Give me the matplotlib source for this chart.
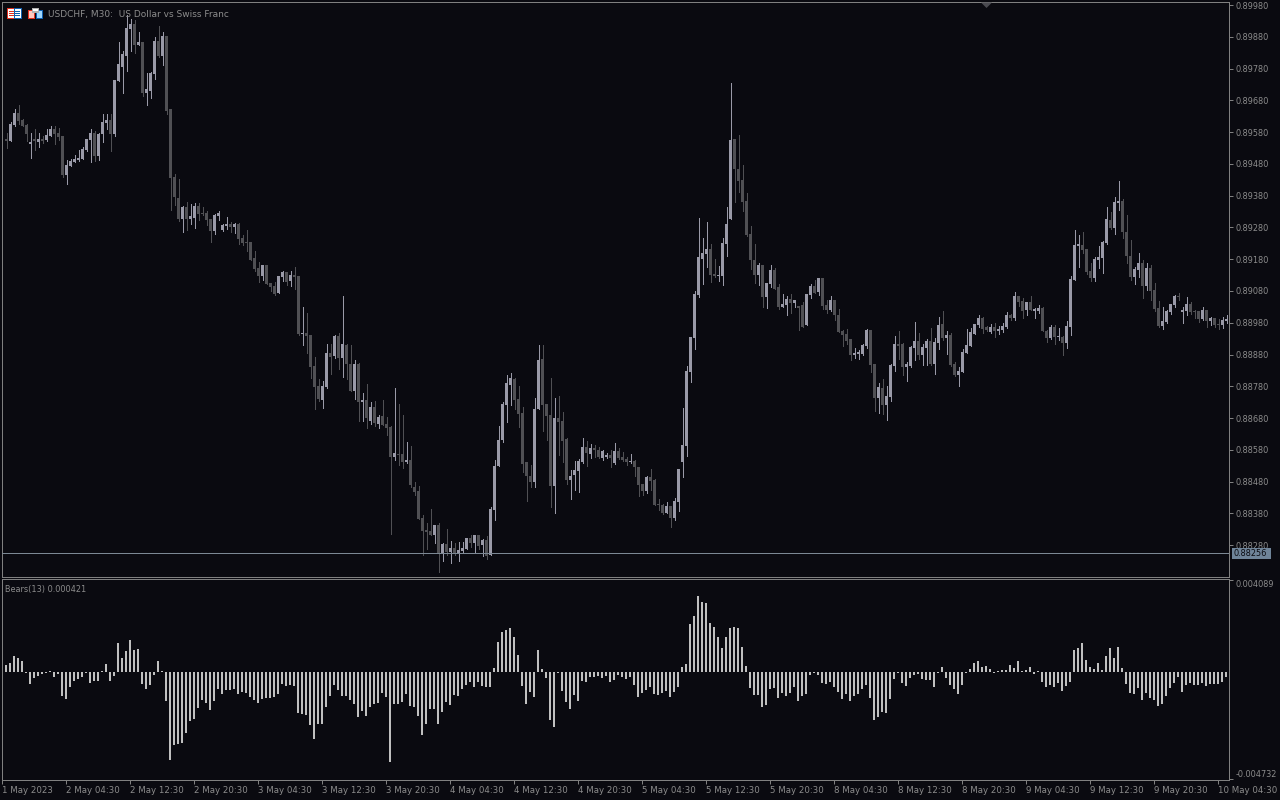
import matplotlib
matplotlib.use('Agg')
import matplotlib.pyplot as plt
import numpy as np
from matplotlib.patches import Rectangle, Polygon
from matplotlib.transforms import ScaledTranslation

# prices in points (0.00001), one candle every 30 minutes
opens = [
    89557,89552,89602,89640,89618,89602,89542,89558,89549,89558,
    89555,89568,89590,89577,89568,89445,89473,89487,89492,89495,
    89523,89555,89577,89505,89574,89609,89618,89574,89741,89785,
    89820,89905,89920,89854,89864,89703,89709,89763,89867,89820,
    89883,89653,89438,89372,89306,89344,89306,89309,89347,89324,
    89325,89306,89268,89316,89272,89284,89290,89281,89290,89246,
    89234,89234,89183,89152,89127,89161,89105,89095,89073,89123,
    89139,89111,89130,89127,88944,88947,88941,88843,88780,88736,
    88777,88884,88875,88938,88868,88909,88849,88764,88849,88730,
    88736,88672,88715,88662,88687,88661,88652,88557,88567,88567,
    88542,88548,88463,88450,88365,88327,88324,88312,88343,88254,
    88283,88258,88271,88254,88261,88268,88302,88287,88312,88280,
    88296,88249,88390,88529,88611,88721,88784,88803,88740,88696,
    88542,88498,88479,88709,88866,88724,88690,88466,88680,88671,
    88614,88485,88501,88513,88542,88589,88567,88586,88580,88554,
    88557,88564,88539,88576,88557,88551,88542,88545,88526,88472,
    88450,88494,88485,88409,88406,88381,88403,88365,88416,88542,
    88592,88825,88932,89067,89181,89196,89212,89133,89127,89127,
    89228,89307,89559,89464,89430,89363,89259,89177,89130,89162,
    89061,89102,89146,89092,89029,89036,89055,89042,89033,89036,
    88973,89067,89096,89077,89121,89036,89020,89052,89004,88954,
    88944,88929,88878,88881,88881,88907,88957,88850,88743,88774,
    88721,88746,88844,88913,88913,88840,88844,88900,88922,88878,
    88900,88922,88850,88916,88976,88932,88941,88850,88815,88825,
    88885,88907,88944,88973,88995,88966,88951,88966,88954,88957,
    88966,89004,88995,89064,89048,89020,89045,89017,89017,89026,
    88954,88932,88966,88935,88935,88916,88966,89115,89222,89225,
    89212,89143,89121,89177,89184,89231,89304,89278,89357,89363,
    89266,89190,89124,89146,89168,89096,89152,89083,89026,88970,
    88982,89014,89036,89064,89014,89017,89039,89017,89017,88992,
    89020,88985,88995,88976,88973,88985,
]
highs = [
    89576,89612,89653,89665,89621,89605,89576,89590,89577,89568,
    89590,89599,89599,89593,89568,89492,89495,89508,89523,89533,
    89558,89590,89583,89577,89637,89637,89637,89744,89864,89835,
    89949,89936,89933,89895,89864,89766,89769,89879,89914,89895,
    89883,89653,89448,89432,89347,89360,89353,89357,89357,89344,
    89331,89306,89322,89331,89290,89312,89297,89294,89294,89256,
    89271,89234,89205,89171,89161,89161,89105,89108,89127,89142,
    89139,89142,89155,89127,89029,89010,88941,88871,88802,88796,
    88912,88912,88941,88947,89064,88912,88909,88862,88853,88758,
    88786,88730,88733,88690,88737,88683,88655,88775,88724,88690,
    88605,88592,88479,88466,88375,88350,88394,88343,88350,88286,
    88331,88293,88287,88290,88290,88302,88312,88312,88312,88299,
    88309,88400,88548,88655,88731,88816,88822,88806,88781,88715,
    88542,88532,88743,88910,88910,88724,88806,88743,88750,88699,
    88617,88516,88545,88551,88617,88608,88598,88595,88589,88580,
    88570,88580,88602,88586,88573,88557,88567,88548,88526,88472,
    88498,88520,88488,88425,88409,88416,88403,88428,88520,88712,
    88844,88935,89080,89310,89247,89297,89228,89181,89159,89247,
    89344,89735,89559,89571,89477,89389,89285,89228,89168,89162,
    89105,89162,89152,89102,89070,89064,89070,89051,89033,89045,
    89070,89102,89115,89121,89121,89052,89064,89052,89023,88957,
    88960,88929,88900,88894,88913,88960,88957,88850,88790,88803,
    88781,88850,88938,88954,88916,88856,88907,88982,88948,88913,
    88929,88963,88932,88998,89017,88954,88948,88856,88840,88897,
    88960,88963,88976,89004,88998,88970,88976,88979,88970,88979,
    89014,89007,89077,89064,89058,89045,89064,89026,89036,89029,
    88957,88973,88973,88963,88938,88985,89127,89272,89256,89266,
    89212,89168,89187,89222,89237,89344,89329,89376,89426,89370,
    89319,89240,89155,89200,89177,89168,89162,89105,89048,89029,
    89020,89039,89067,89074,89029,89061,89045,89020,89017,89029,
    89020,88998,88995,88992,88998,89004,
]
lows = [
    89530,89552,89599,89605,89599,89552,89498,89523,89533,89546,
    89552,89568,89542,89555,89438,89416,89473,89487,89489,89495,
    89520,89486,89489,89492,89549,89590,89520,89568,89741,89703,
    89772,89835,89829,89854,89694,89665,89687,89747,89816,89791,
    89637,89334,89350,89300,89265,89272,89290,89278,89303,89319,
    89287,89234,89259,89303,89268,89275,89265,89262,89227,89224,
    89205,89177,89142,89108,89114,89101,89079,89067,89073,89111,
    89098,89095,89086,88941,88909,88884,88805,88708,88733,88711,
    88774,88818,88868,88834,88808,88802,88764,88739,88670,88670,
    88650,88660,88655,88650,88658,88627,88315,88548,88532,88523,
    88539,88463,88438,88362,88249,88268,88312,88287,88195,88230,
    88249,88224,88249,88230,88258,88268,88274,88255,88268,88246,
    88236,88249,88359,88529,88605,88668,88721,88709,88652,88510,
    88419,88463,88463,88709,88639,88611,88400,88381,88564,88542,
    88472,88425,88453,88447,88539,88529,88554,88557,88554,88548,
    88554,88526,88535,88551,88545,88532,88539,88498,88435,88438,
    88444,88453,88406,88390,88378,88381,88337,88359,88387,88494,
    88561,88792,88897,89061,89102,89155,89108,89124,89111,89099,
    89190,89307,89360,89392,89332,89253,89149,89105,89099,89029,
    89026,89092,89086,89023,89029,89004,89011,89029,88957,88966,
    88973,89058,89074,89067,89023,89011,89017,88988,88951,88907,
    88913,88862,88869,88866,88878,88900,88825,88702,88696,88692,
    88673,88733,88828,88866,88815,88796,88840,88862,88866,88847,
    88847,88847,88818,88897,88925,88881,88844,88812,88781,88825,
    88885,88907,88944,88966,88948,88954,88948,88935,88944,88951,
    88963,88988,88988,89033,88995,89004,89020,88995,89011,88954,
    88919,88929,88913,88925,88878,88900,88941,89115,89155,89200,
    89133,89111,89111,89152,89137,89228,89275,89259,89335,89247,
    89168,89115,89102,89124,89058,89083,89052,89017,88966,88960,
    88979,89007,89029,89052,88979,89004,89007,88995,88982,88988,
    88966,88973,88966,88960,88963,88979,
]
closes = [
    89553,89605,89640,89615,89599,89574,89549,89552,89558,89552,
    89571,89590,89574,89564,89445,89476,89489,89495,89498,89527,
    89558,89577,89505,89574,89612,89618,89574,89744,89794,89826,
    89908,89920,89854,89864,89703,89716,89766,89867,89820,89883,
    89646,89435,89375,89306,89344,89306,89316,89347,89322,89321,
    89303,89268,89319,89325,89287,89290,89281,89290,89243,89231,
    89231,89177,89149,89127,89161,89101,89092,89070,89127,89139,
    89108,89130,89123,88944,88947,88938,88840,88777,88739,88780,
    88884,88871,88938,88868,88912,88849,88764,88849,88730,88736,
    88680,88715,88665,88684,88658,88649,88557,88570,88564,88542,
    88548,88469,88447,88362,88324,88321,88312,88343,88254,88283,
    88258,88271,88254,88265,88271,88302,88287,88312,88277,88296,
    88246,88394,88529,88611,88724,88791,88806,88737,88693,88535,
    88498,88479,88709,88863,88721,88687,88466,88680,88668,88608,
    88485,88498,88516,88545,88589,88570,88586,88580,88557,88576,
    88564,88554,88576,88554,88548,88542,88545,88526,88469,88450,
    88494,88482,88406,88406,88381,88403,88365,88419,88520,88595,
    88828,88935,89070,89187,89200,89212,89130,89127,89130,89231,
    89291,89556,89464,89426,89360,89256,89177,89130,89162,89061,
    89105,89146,89086,89029,89039,89055,89042,89051,89026,88966,
    89070,89096,89074,89121,89033,89020,89052,89004,88951,88941,
    88922,88878,88884,88888,88910,88957,88847,88743,88777,88721,
    88749,88847,88913,88907,88840,88850,88903,88922,88878,88903,
    88922,88850,88919,88973,88932,88941,88847,88815,88828,88888,
    88910,88951,88976,88995,88960,88957,88966,88954,88960,88970,
    89004,88995,89064,89045,89017,89045,89020,89023,89026,88954,
    88932,88966,88935,88938,88916,88970,89118,89225,89228,89209,
    89140,89121,89181,89187,89234,89307,89278,89360,89363,89266,
    89190,89124,89149,89168,89096,89152,89080,89023,88970,88985,
    89017,89039,89064,89061,89020,89039,89014,89014,88992,89020,
    88985,88995,88973,88973,88988,88992,
]
# Bears Power(13), in millionths
bears = [
    308,396,704,616,484,-44,-528,-264,-176,-88,-44,44,-220,-88,-1056,-1188,-660,-396,-308,-220,
    -44,-484,-396,-396,44,352,-396,-176,1276,616,924,1408,968,1012,-528,-748,-572,-132,484,44,
    -1276,-3872,-3212,-3168,-3124,-2684,-2156,-2068,-1584,-1232,-1364,-1672,-1276,-748,-968,-792,-792,-748,-968,-880,
    -924,-1100,-1232,-1364,-1188,-1144,-1144,-1100,-968,-528,-616,-572,-616,-1804,-1848,-1892,-2332,-2948,-2288,
    -2288,-1540,-1056,-572,-792,-1056,-1056,-1232,-1408,-1980,-1716,-1936,-1540,-1408,-1364,-924,-1100,-4004,-1408,-1408,
    -1320,-968,-1496,-1540,-1936,-2772,-2288,-1628,-1628,-2288,-1760,-1320,-1452,-1012,-1056,-748,-572,-440,-660,-440,
    -616,-660,-660,
    176,1320,1760,1848,1936,1540,748,-616,-1408,-880,-1100,968,132,-264,-2112,-2420,-44,-836,-1320,-1628,
    -1012,-1276,-396,-440,-220,-220,-176,-264,-176,-440,-352,-132,-220,-308,-220,-572,-1100,-924,-792,-660,
    -968,-1012,-924,-836,-1100,-880,-660,
    220,352,2112,2464,3344,3080,3036,2156,1980,1540,1056,1540,1936,1980,1936,1100,264,-704,-1012,-1012,
    -1540,-1452,-748,-704,-1144,-924,-1056,-924,-660,-1276,-1056,-968,-132,-44,-132,-484,-528,-440,-660,-880,
    -1188,-968,-1276,-1056,-968,-748,-572,-1144,-2112,-1980,-1760,-1804,-1188,-308,-44,-484,-616,-264,-132,-88,
    -308,-352,-352,-660,-44,220,-264,-572,-748,-968,-572,-44,132,396,484,220,264,132,-44,44,
    88,88,308,176,484,44,88,220,-88,44,-440,-660,-572,-660,-484,-836,-616,-440,968,1056,
    1276,528,220,132,396,88,704,1056,616,1100,176,-528,-924,-968,-704,-1232,-924,-1144,-1232,-1496,
    -1408,-1056,-704,-484,-220,-880,-572,-484,-572,-572,-484,-616,-528,-528,-528,-440,-220,
]
price_ticks = [89980 - 100 * k for k in range(18)]
bears_ticks = [0.004089, -0.004732]
time_labels = ['1 May 2023', '2 May 04:30', '2 May 12:30', '2 May 20:30', '3 May 04:30',
               '3 May 12:30', '3 May 20:30', '4 May 04:30', '4 May 12:30', '4 May 20:30',
               '5 May 04:30', '5 May 12:30', '5 May 20:30', '8 May 04:30', '8 May 12:30',
               '8 May 20:30', '9 May 04:30', '9 May 12:30', '9 May 20:30', '10 May 04:30']
last_price = 0.88256

BG = '#0a0a10'
BULL = '#9a9aa8'
BEAR = '#505054'
FRAME = '#808080'
TEXT = '#8c8c8c'

plt.rcParams['font.family'] = 'DejaVu Sans'

W, H = 1280, 800
fig = plt.figure(figsize=(W / 100, H / 100), dpi=100, facecolor=BG)


def panel(left, top, right, bottom):
    return fig.add_axes([left / W, 1 - bottom / H, (right - left) / W, (bottom - top) / H], facecolor=BG)


def px_rect(x, y, w, h, color):
    fig.add_artist(Rectangle((x / W, 1 - (y + h) / H), w / W, h / H, transform=fig.transFigure,
                             fc=color, lw=0, antialiased=False))


ax = panel(2, 2, 1229, 577)
ax2 = panel(2, 579, 1229, 780)

o = np.array(opens) / 1e5
h = np.array(highs) / 1e5
l = np.array(lows) / 1e5
c = np.array(closes) / 1e5
xs = np.arange(len(o))
colors = [BULL if cl >= op else BEAR for op, cl in zip(o, c)]

ax.vlines(xs, l, h, colors=colors, linewidth=0.72, antialiased=False, zorder=2)
ax.bar(xs, np.maximum(np.abs(c - o), 1e-5), bottom=np.minimum(o, c), width=0.75, color=colors,
       linewidth=0, antialiased=False, zorder=3)
ax.axhline(last_price, color='#7c8894', linewidth=0.72, antialiased=False, zorder=4)
ax.set_xlim(-1.125, 305.625)
ax.set_ylim(0.881796, 0.899897)

ax2.bar(xs, np.array(bears) / 1e6, width=0.5, color='#c0c0c0', linewidth=0, antialiased=False)
ax2.set_xlim(-1, 305.75)
ax2.set_ylim(-0.004779, 0.004115)

for a in (ax, ax2):
    for s in a.spines.values():
        s.set_color(FRAME)
        s.set_linewidth(0.72)
        s.set_antialiased(False)
    a.yaxis.tick_right()
    a.tick_params(axis='y', length=3, width=0.72, color=FRAME, labelcolor=TEXT, labelsize=5.9, pad=1.5)

ax.set_xticks([])
ax.set_yticks(np.array(price_ticks) / 1e5)
ax.set_yticklabels([f'{p / 1e5:.5f}' for p in price_ticks])
ax2.set_yticks(bears_ticks)
ax2.set_yticklabels([f'{v:.6f}' for v in bears_ticks])
low_labels = ax2.get_yticklabels()
low_labels[0].set_verticalalignment('top')
low_labels[1].set_verticalalignment('bottom')

# time axis: one label every 16 bars
tick_idx = [-1 + 16 * k for k in range(len(time_labels))]
ax2.set_xticks(tick_idx)
ax2.set_xticklabels(time_labels, ha='left')
ax2.tick_params(axis='x', direction='out', length=3, width=0.72, color=FRAME,
                labelcolor=TEXT, labelsize=6.2, pad=1)
shift = ScaledTranslation(-0.5 / 100, 0, fig.dpi_scale_trans)
for lbl in ax2.get_xticklabels():
    lbl.set_transform(lbl.get_transform() + shift)

# header and indicator captions
fig.text(48 / W, 1 - 14 / H, 'USDCHF, M30:  US Dollar vs Swiss Franc', color=TEXT, fontsize=6.5, va='center')
fig.text(5 / W, 1 - 589.5 / H, 'Bears(13) 0.000421', color=TEXT, fontsize=5.9, va='center')

# last price tag
px_rect(1232, 548, 39, 11, '#6f8499')
fig.text(1234 / W, 1 - 553.5 / H, f'{last_price:.5f}', color='#0a0a10', fontsize=5.9, va='center')

# little toolbar icons
px_rect(7, 8, 8, 11, '#e03020')
px_rect(8, 9, 6, 9, '#ffffff')
px_rect(14, 8, 8, 11, '#1060b0')
px_rect(15, 9, 6, 9, '#ffffff')
for yy in (11, 13, 15):
    px_rect(9, yy, 5, 1, '#e03020')
    px_rect(15, yy, 5, 1, '#1060b0')
px_rect(28, 10, 7, 9, '#e03020')
px_rect(29, 11, 5, 7, '#ffc8c0')
px_rect(36, 10, 7, 9, '#1060b0')
px_rect(37, 11, 5, 7, '#a0d8ff')
px_rect(32, 8, 7, 5, '#b0b0b0')
px_rect(33, 9, 5, 2, '#ffffff')

fig.add_artist(Polygon([(981 / W, 1 - 2.5 / H), (992 / W, 1 - 2.5 / H), (986.5 / W, 1 - 8 / H)],
                       closed=True, transform=fig.transFigure, fc='#4a4a50', lw=0))

fig.savefig('out.png', dpi=100, facecolor=BG)
